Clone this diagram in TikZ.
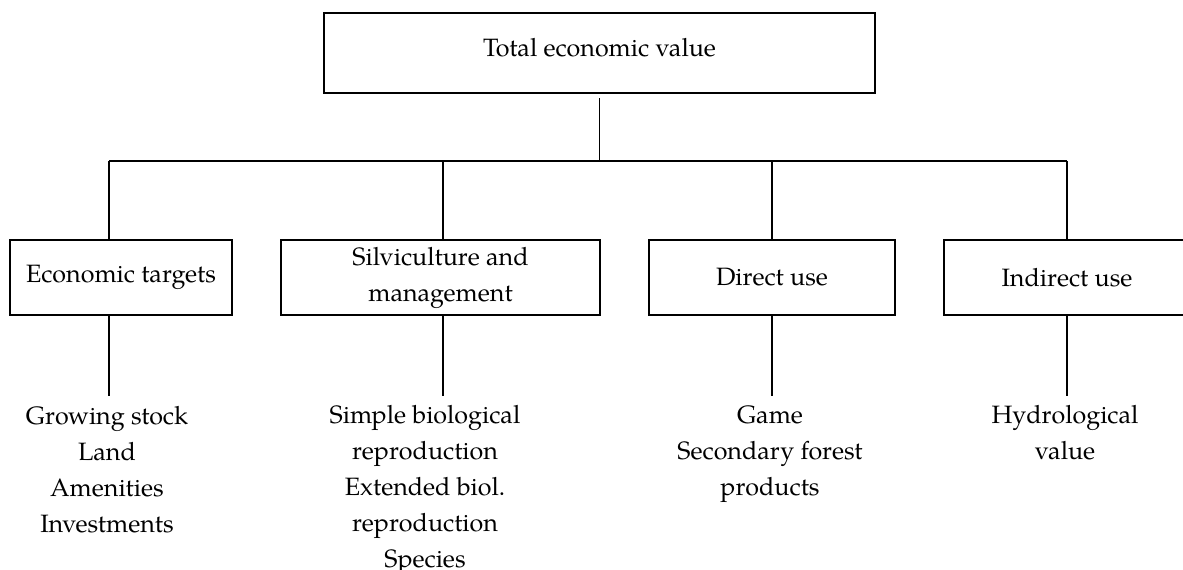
\documentclass[tikz,border=0pt]{standalone}
\usepackage{fontspec}
\setmainfont{TeX Gyre Pagella}
\newcommand\diagfont{\fontsize{25.1}{36}\selectfont}
\begin{document}
\begin{tikzpicture}[x=1pt,y=-1pt,
  box/.style={draw, line width=2.6pt, inner sep=0pt, outer sep=0pt, align=center, font=\diagfont},
  conn/.style={draw, line width=1.1pt},
  itemlist/.style={inner sep=0pt, align=center, font=\diagfont, anchor=base}]
\useasboundingbox (0,0) rectangle (1183,570);
\node[box, minimum width=551pt, minimum height=80pt] (tev) at (599.5,53) {\raisebox{11pt}{Total economic value}};
\node[box, minimum width=222pt, minimum height=75pt] (b1) at (121,277.5) {Economic targets};
\node[box, minimum width=319pt, minimum height=75pt] (b2) at (440.5,277.5) {Silviculture and\\management};
\node[box, minimum width=246pt, minimum height=75pt] (b3) at (772,277.5) {Direct use};
\node[box, minimum width=246pt, minimum height=75pt] (b4) at (1067,277.5) {Indirect use};
\coordinate (h1) at (109,161);
\coordinate (h2) at (443,161);
\coordinate (h3) at (772,161);
\coordinate (h4) at (1067,161);
\coordinate (e1) at (109,396);
\coordinate (e2) at (443,396);
\coordinate (e3) at (772,396);
\coordinate (e4) at (1067,396);
\draw[conn] ([yshift=-5pt]tev.south) -- (tev.south |- h1);
\draw[conn] (h1) -- (h4);
\draw[conn] (h1) -- (h1 |- b1.north);
\draw[conn] (h2) -- (h2 |- b2.north);
\draw[conn] (h3) -- (h3 |- b3.north);
\draw[conn] (h4) -- (h4 |- b4.north);
\draw[conn] (e1 |- b1.south) -- (e1);
\draw[conn] (e2 |- b2.south) -- (e2);
\draw[conn] (e3 |- b3.south) -- (e3);
\draw[conn] (e4 |- b4.south) -- (e4);
\node[itemlist] (l1) at (107,532) {Growing stock\\Land\\Amenities\\Investments};
\node[itemlist] (l2) at (425,567) {Simple biological\\reproduction\\Extended biol.\\reproduction\\Species};
\node[itemlist] (l3) at (770,495) {Game\\Secondary forest\\products};
\node[itemlist] (l4) at (1065,459) {Hydrological\\value};
\end{tikzpicture}
\end{document}
